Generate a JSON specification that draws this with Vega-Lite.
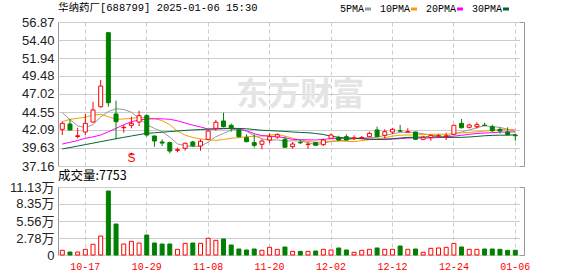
{
  "$schema": "https://vega.github.io/schema/vega-lite/v6.json",
  "autosize": {"type": "pad"},
  "padding": {"left": 8, "top": 2, "right": 0, "bottom": 0},
  "background": "#ffffff",
  "spacing": 21,
  "bounds": "flush",
  "config": {
    "view": {"stroke": "#999999", "strokeWidth": 1},
    "axis": {"domain": false, "ticks": false, "labelFont": "Liberation Sans Narrow, Liberation Sans, Noto Sans CJK SC", "labelFontSize": 13, "labelColor": "#222222", "gridColor": "#cccccc", "gridWidth": 1, "labelPadding": 4, "labelOverlap": false},
    "axisY": {"grid": true, "gridColor": "#cccccc", "gridOpacity": 1}
  },
  "datasets": {
    "k": [
      {"date":"2024-10-14","open":42.18,"high":43.22,"low":41.40,"close":43.00,"vol":7700,"5PMA":44.46,"10PMA":43.22,"20PMA":40.17,"30PMA":39.49},
      {"date":"2024-10-15","open":42.91,"high":43.59,"low":42.05,"close":42.09,"vol":4900,"5PMA":43.50,"10PMA":43.55,"20PMA":40.40,"30PMA":39.69},
      {"date":"2024-10-16","open":41.20,"high":42.40,"low":40.95,"close":41.30,"vol":4900,"5PMA":42.65,"10PMA":43.69,"20PMA":40.65,"30PMA":39.89},
      {"date":"2024-10-17","open":41.81,"high":44.30,"low":41.40,"close":43.00,"vol":9300,"5PMA":42.40,"10PMA":43.82,"20PMA":40.95,"30PMA":40.09},
      {"date":"2024-10-18","open":43.18,"high":45.96,"low":43.10,"close":44.83,"vol":17500,"5PMA":42.84,"10PMA":44.14,"20PMA":41.15,"30PMA":40.29},
      {"date":"2024-10-21","open":45.28,"high":48.93,"low":45.15,"close":48.11,"vol":31100,"5PMA":43.87,"10PMA":44.23,"20PMA":41.40,"30PMA":40.49},
      {"date":"2024-10-22","open":55.41,"high":55.41,"low":45.28,"close":45.82,"vol":104700,"5PMA":44.61,"10PMA":43.91,"20PMA":41.85,"30PMA":40.69},
      {"date":"2024-10-23","open":44.28,"high":46.10,"low":40.81,"close":43.22,"vol":50700,"5PMA":45.00,"10PMA":43.55,"20PMA":42.32,"30PMA":40.90},
      {"date":"2024-10-24","open":42.40,"high":42.77,"low":41.72,"close":42.45,"vol":18000,"5PMA":44.89,"10PMA":43.60,"20PMA":42.80,"30PMA":41.08},
      {"date":"2024-10-25","open":42.73,"high":43.91,"low":42.32,"close":43.00,"vol":22400,"5PMA":44.52,"10PMA":43.68,"20PMA":43.22,"30PMA":41.27,"sig":"S"},
      {"date":"2024-10-28","open":43.18,"high":44.73,"low":42.63,"close":44.05,"vol":19600,"5PMA":43.71,"10PMA":43.79,"20PMA":43.45,"30PMA":41.45},
      {"date":"2024-10-29","open":44.05,"high":44.23,"low":41.17,"close":41.40,"vol":32700,"5PMA":42.82,"10PMA":43.72,"20PMA":43.59,"30PMA":41.63},
      {"date":"2024-10-30","open":41.27,"high":41.30,"low":39.80,"close":40.58,"vol":19600,"5PMA":42.30,"10PMA":43.65,"20PMA":43.62,"30PMA":41.71},
      {"date":"2024-10-31","open":40.45,"high":40.81,"low":39.90,"close":40.30,"vol":18000,"5PMA":41.87,"10PMA":43.38,"20PMA":43.62,"30PMA":41.79},
      {"date":"2024-11-01","open":40.36,"high":40.50,"low":38.90,"close":39.21,"vol":18000,"5PMA":41.11,"10PMA":42.81,"20PMA":43.55,"30PMA":41.87},
      {"date":"2024-11-04","open":39.30,"high":39.67,"low":39.03,"close":39.40,"vol":9300,"5PMA":40.18,"10PMA":41.94,"20PMA":43.35,"30PMA":41.95},
      {"date":"2024-11-05","open":39.58,"high":40.35,"low":39.26,"close":40.27,"vol":19100,"5PMA":39.95,"10PMA":41.39,"20PMA":43.05,"30PMA":42.03},
      {"date":"2024-11-06","open":40.45,"high":40.62,"low":39.76,"close":39.94,"vol":19600,"5PMA":39.82,"10PMA":41.06,"20PMA":42.75,"30PMA":42.10},
      {"date":"2024-11-07","open":39.90,"high":40.81,"low":39.26,"close":40.54,"vol":19100,"5PMA":39.87,"10PMA":40.87,"20PMA":42.50,"30PMA":42.15},
      {"date":"2024-11-08","open":40.81,"high":42.09,"low":40.67,"close":41.95,"vol":27300,"5PMA":40.42,"10PMA":40.76,"20PMA":42.22,"30PMA":42.20},
      {"date":"2024-11-11","open":42.32,"high":43.46,"low":41.99,"close":43.14,"vol":24000,"5PMA":41.17,"10PMA":40.67,"20PMA":42.23,"30PMA":42.25},
      {"date":"2024-11-12","open":43.32,"high":44.46,"low":42.45,"close":42.54,"vol":26200,"5PMA":41.62,"10PMA":40.79,"20PMA":42.25,"30PMA":42.30},
      {"date":"2024-11-13","open":42.73,"high":42.96,"low":41.86,"close":42.27,"vol":16400,"5PMA":42.09,"10PMA":40.96,"20PMA":42.30,"30PMA":42.32},
      {"date":"2024-11-14","open":42.09,"high":42.32,"low":41.10,"close":41.17,"vol":9800,"5PMA":42.21,"10PMA":41.04,"20PMA":42.21,"30PMA":42.30},
      {"date":"2024-11-15","open":41.04,"high":41.50,"low":40.40,"close":40.49,"vol":8200,"5PMA":41.92,"10PMA":41.17,"20PMA":41.99,"30PMA":42.25},
      {"date":"2024-11-18","open":40.36,"high":41.50,"low":39.67,"close":39.99,"vol":9800,"5PMA":41.29,"10PMA":41.23,"20PMA":41.59,"30PMA":42.15},
      {"date":"2024-11-19","open":40.13,"high":40.81,"low":39.44,"close":40.58,"vol":7700,"5PMA":40.90,"10PMA":41.26,"20PMA":41.32,"30PMA":42.05},
      {"date":"2024-11-20","open":40.72,"high":41.63,"low":40.27,"close":41.17,"vol":12600,"5PMA":40.68,"10PMA":41.38,"20PMA":41.22,"30PMA":42.00},
      {"date":"2024-11-21","open":41.13,"high":41.63,"low":40.90,"close":41.45,"vol":9300,"5PMA":40.74,"10PMA":41.48,"20PMA":41.17,"30PMA":41.95},
      {"date":"2024-11-22","open":40.81,"high":41.17,"low":39.70,"close":39.72,"vol":13100,"5PMA":40.58,"10PMA":41.25,"20PMA":41.01,"30PMA":41.90},
      {"date":"2024-11-25","open":39.80,"high":40.45,"low":39.53,"close":40.17,"vol":6000,"5PMA":40.62,"10PMA":40.96,"20PMA":40.81,"30PMA":41.81},
      {"date":"2024-11-26","open":40.38,"high":40.72,"low":40.20,"close":40.33,"vol":6000,"5PMA":40.57,"10PMA":40.73,"20PMA":40.76,"30PMA":41.75},
      {"date":"2024-11-27","open":40.10,"high":40.36,"low":39.53,"close":40.15,"vol":6000,"5PMA":40.36,"10PMA":40.52,"20PMA":40.74,"30PMA":41.71},
      {"date":"2024-11-28","open":40.36,"high":40.45,"low":39.95,"close":40.00,"vol":6500,"5PMA":40.07,"10PMA":40.41,"20PMA":40.72,"30PMA":41.61},
      {"date":"2024-11-29","open":40.08,"high":40.90,"low":39.90,"close":40.72,"vol":9300,"5PMA":40.27,"10PMA":40.43,"20PMA":40.80,"30PMA":41.47},
      {"date":"2024-12-02","open":40.95,"high":41.63,"low":40.85,"close":41.40,"vol":8200,"5PMA":40.52,"10PMA":40.57,"20PMA":40.90,"30PMA":41.25},
      {"date":"2024-12-03","open":41.08,"high":41.30,"low":40.60,"close":40.72,"vol":11500,"5PMA":40.60,"10PMA":40.58,"20PMA":40.92,"30PMA":41.08},
      {"date":"2024-12-04","open":41.17,"high":41.50,"low":40.65,"close":40.72,"vol":8200,"5PMA":40.71,"10PMA":40.54,"20PMA":40.96,"30PMA":40.99},
      {"date":"2024-12-05","open":40.90,"high":41.36,"low":40.72,"close":41.00,"vol":4400,"5PMA":40.91,"10PMA":40.49,"20PMA":40.98,"30PMA":40.95},
      {"date":"2024-12-06","open":41.00,"high":41.27,"low":40.90,"close":41.05,"vol":7600,"5PMA":40.98,"10PMA":40.63,"20PMA":40.94,"30PMA":40.88},
      {"date":"2024-12-09","open":41.17,"high":41.86,"low":41.10,"close":41.63,"vol":9300,"5PMA":41.02,"10PMA":40.77,"20PMA":40.86,"30PMA":40.80},
      {"date":"2024-12-10","open":42.09,"high":42.54,"low":41.08,"close":41.17,"vol":11500,"5PMA":41.11,"10PMA":40.86,"20PMA":40.80,"30PMA":40.79},
      {"date":"2024-12-11","open":41.36,"high":42.18,"low":40.90,"close":41.86,"vol":9300,"5PMA":41.34,"10PMA":41.03,"20PMA":40.77,"30PMA":40.84},
      {"date":"2024-12-12","open":41.81,"high":42.36,"low":41.54,"close":42.18,"vol":9300,"5PMA":41.58,"10PMA":41.25,"20PMA":40.83,"30PMA":40.90},
      {"date":"2024-12-13","open":41.97,"high":42.77,"low":41.81,"close":41.93,"vol":14700,"5PMA":41.75,"10PMA":41.37,"20PMA":40.90,"30PMA":40.99},
      {"date":"2024-12-16","open":41.80,"high":42.32,"low":41.72,"close":41.85,"vol":9300,"5PMA":41.80,"10PMA":41.41,"20PMA":40.99,"30PMA":41.07},
      {"date":"2024-12-17","open":41.81,"high":41.86,"low":40.72,"close":40.81,"vol":9800,"5PMA":41.73,"10PMA":41.42,"20PMA":41.00,"30PMA":41.09},
      {"date":"2024-12-18","open":40.81,"high":41.27,"low":40.70,"close":41.08,"vol":4400,"5PMA":41.57,"10PMA":41.46,"20PMA":41.00,"30PMA":41.13},
      {"date":"2024-12-19","open":41.08,"high":41.45,"low":40.62,"close":41.36,"vol":10900,"5PMA":41.41,"10PMA":41.49,"20PMA":40.99,"30PMA":41.15},
      {"date":"2024-12-20","open":41.25,"high":41.54,"low":41.10,"close":41.30,"vol":11500,"5PMA":41.28,"10PMA":41.52,"20PMA":41.07,"30PMA":41.13},
      {"date":"2024-12-23","open":41.20,"high":41.72,"low":40.72,"close":41.30,"vol":12500,"5PMA":41.17,"10PMA":41.48,"20PMA":41.13,"30PMA":41.07},
      {"date":"2024-12-24","open":41.50,"high":42.80,"low":41.40,"close":42.73,"vol":19100,"5PMA":41.55,"10PMA":41.64,"20PMA":41.25,"30PMA":41.08},
      {"date":"2024-12-25","open":43.00,"high":43.59,"low":42.30,"close":42.40,"vol":13100,"5PMA":41.82,"10PMA":41.69,"20PMA":41.36,"30PMA":41.08},
      {"date":"2024-12-26","open":42.45,"high":42.96,"low":42.30,"close":42.77,"vol":9300,"5PMA":42.10,"10PMA":41.75,"20PMA":41.50,"30PMA":41.13},
      {"date":"2024-12-27","open":42.54,"high":43.14,"low":42.30,"close":42.82,"vol":9300,"5PMA":42.40,"10PMA":41.84,"20PMA":41.60,"30PMA":41.21},
      {"date":"2024-12-30","open":42.75,"high":43.09,"low":42.60,"close":42.70,"vol":9800,"5PMA":42.68,"10PMA":41.93,"20PMA":41.67,"30PMA":41.30},
      {"date":"2024-12-31","open":42.54,"high":42.82,"low":41.80,"close":41.99,"vol":9800,"5PMA":42.54,"10PMA":42.05,"20PMA":41.73,"30PMA":41.35},
      {"date":"2025-01-02","open":42.18,"high":42.45,"low":41.60,"close":41.95,"vol":9300,"5PMA":42.45,"10PMA":42.13,"20PMA":41.79,"30PMA":41.38},
      {"date":"2025-01-03","open":41.81,"high":42.45,"low":41.36,"close":41.45,"vol":7600,"5PMA":42.18,"10PMA":42.14,"20PMA":41.82,"30PMA":41.38},
      {"date":"2025-01-06","open":41.40,"high":41.63,"low":40.62,"close":41.30,"vol":7753,"5PMA":41.88,"10PMA":42.14,"20PMA":41.83,"30PMA":41.43}
    ]
  },
  "vconcat": [
    {
      "width": 466,
      "height": 144,
      "data": {"name": "k"},
      "title": {"text": "华纳药厂[688799] 2025-01-06 15:30", "anchor": "start", "frame": "group", "font": "Liberation Mono, Noto Sans CJK SC", "fontSize": 10.5, "fontWeight": "normal", "color": "#000000", "offset": 3},
      "encoding": {
        "x": {"field": "date", "type": "ordinal", "scale": {"type": "band", "paddingInner": 0, "paddingOuter": 0.06, "range": [0, 461.6]},
              "axis": {"values": ["2024-10-17","2024-10-29","2024-11-08","2024-11-20","2024-12-02","2024-12-12","2024-12-24","2025-01-06"], "labels": false, "grid": true, "gridDash": [4, 3], "gridColor": "#cccccc", "bandPosition": 0.5, "title": null}}
      },
      "layer": [
        {
          "data": {"values": [{"wm": "东方财富"}]},
          "mark": {"type": "text", "font": "Noto Sans CJK SC", "fontSize": 32, "fontWeight": "bold", "color": "#e4e4e4"},
          "encoding": {"x": {"datum": "2024-11-26"}, "y": {"datum": 46.9, "type": "quantitative", "axis": {"values": [37.16, 39.63, 42.09, 44.55, 47.02, 49.48, 51.94, 54.40, 56.87], "labelExpr": "format(datum.value, '.2f')", "title": null, "labelOverlap": false, "grid": true}}, "text": {"field": "wm"}}
        },
        {
          "transform": [{"fold": ["5PMA", "10PMA", "20PMA", "30PMA"], "as": ["ma", "val"]}],
          "mark": {"type": "line", "strokeWidth": 1},
          "encoding": {
            "y": {"field": "val", "type": "quantitative", "scale": {"domain": [37.16, 56.87], "zero": false, "nice": false},
                  "axis": {"values": [37.16, 39.63, 42.09, 44.55, 47.02, 49.48, 51.94, 54.40, 56.87], "labelExpr": "format(datum.value, '.2f')", "title": null, "labelOverlap": false, "grid": true}},
            "color": {"field": "ma", "type": "nominal", "sort": ["5PMA", "10PMA", "20PMA", "30PMA"],
                      "scale": {"domain": ["5PMA", "10PMA", "20PMA", "30PMA"], "range": ["#999999", "#f5a000", "#ff00ff", "#006633"]},
                      "legend": {"orient": "none", "legendX": 305, "legendY": -18, "direction": "horizontal", "title": null, "labelFont": "Liberation Mono", "labelFontSize": 10, "labelColor": "#000000", "symbolType": "stroke", "symbolStrokeWidth": 3, "symbolSize": 36, "labelAlign": "right", "labelOffset": -9, "columnPadding": 2, "padding": 0}}
          }
        },
        {
          "mark": {"type": "rule", "strokeWidth": 1},
          "encoding": {
            "y": {"field": "low", "type": "quantitative", "scale": {"domain": [37.16, 56.87], "zero": false, "nice": false}, "axis": {"values": [37.16, 39.63, 42.09, 44.55, 47.02, 49.48, 51.94, 54.40, 56.87], "labelExpr": "format(datum.value, '.2f')", "title": null, "labelOverlap": false, "grid": true}},
            "y2": {"field": "high"},
            "color": {"condition": {"test": "datum.close >= datum.open", "value": "#ff0000"}, "value": "#008000"}
          }
        },
        {
          "mark": {"type": "bar", "size": 4, "strokeWidth": 1},
          "encoding": {
            "y": {"field": "open", "type": "quantitative", "scale": {"domain": [37.16, 56.87], "zero": false, "nice": false}, "axis": {"values": [37.16, 39.63, 42.09, 44.55, 47.02, 49.48, 51.94, 54.40, 56.87], "labelExpr": "format(datum.value, '.2f')", "title": null, "labelOverlap": false, "grid": true}},
            "y2": {"field": "close"},
            "fill": {"condition": {"test": "datum.close >= datum.open", "value": "#ffffff"}, "value": "#008000"},
            "stroke": {"condition": {"test": "datum.close >= datum.open", "value": "#ff0000"}, "value": "#008000"}
          }
        },
        {
          "transform": [{"filter": "datum.sig"}],
          "mark": {"type": "text", "font": "Liberation Sans", "fontSize": 12, "color": "#ff0000", "baseline": "bottom"},
          "encoding": {"y": {"datum": 37.3, "type": "quantitative", "axis": {"values": [37.16, 39.63, 42.09, 44.55, 47.02, 49.48, 51.94, 54.40, 56.87], "labelExpr": "format(datum.value, '.2f')", "title": null, "labelOverlap": false, "grid": true}}, "text": {"field": "sig"}}
        },
        {
          "transform": [{"filter": "datum.sig"}],
          "mark": {"type": "point", "shape": "triangle-up", "size": 12, "filled": true, "color": "#ff0000", "opacity": 1},
          "encoding": {"y": {"datum": 38.85, "type": "quantitative", "axis": {"values": [37.16, 39.63, 42.09, 44.55, 47.02, 49.48, 51.94, 54.40, 56.87], "labelExpr": "format(datum.value, '.2f')", "title": null, "labelOverlap": false, "grid": true}}}
        }
      ]
    },
    {
      "width": 466,
      "height": 68,
      "data": {"name": "k"},
      "title": {"text": "成交量:7753", "anchor": "start", "frame": "group", "font": "Liberation Sans Narrow, Noto Sans CJK SC", "fontSize": 12.5, "fontWeight": "normal", "color": "#000000", "offset": -1},
      "mark": {"type": "bar", "size": 4, "strokeWidth": 1},
      "encoding": {
        "x": {"field": "date", "type": "ordinal", "scale": {"type": "band", "paddingInner": 0, "paddingOuter": 0.06, "range": [0, 461.6]},
              "axis": {"values": ["2024-10-17","2024-10-29","2024-11-08","2024-11-20","2024-12-02","2024-12-12","2024-12-24","2025-01-06"], "labelExpr": "substring(datum.label, 5)", "labelFont": "Liberation Mono", "labelFontSize": 10, "labelColor": "#ff0000", "labelAngle": 0, "labelPadding": 6, "grid": true, "gridDash": [4, 3], "gridColor": "#cccccc", "bandPosition": 0.5, "title": null}},
        "y": {"field": "vol", "type": "quantitative", "scale": {"domain": [0, 111300], "nice": false},
              "axis": {"values": [0, 27800, 55600, 83500, 111300], "labelExpr": "datum.value == 0 ? '0' : format(datum.value / 10000, '.2f') + '万'", "title": null, "labelOverlap": false, "grid": true}},
        "fill": {"condition": {"test": "datum.close >= datum.open", "value": "#ffffff"}, "value": "#008000"},
        "stroke": {"condition": {"test": "datum.close >= datum.open", "value": "#ff0000"}, "value": "#008000"}
      }
    }
  ]
}
